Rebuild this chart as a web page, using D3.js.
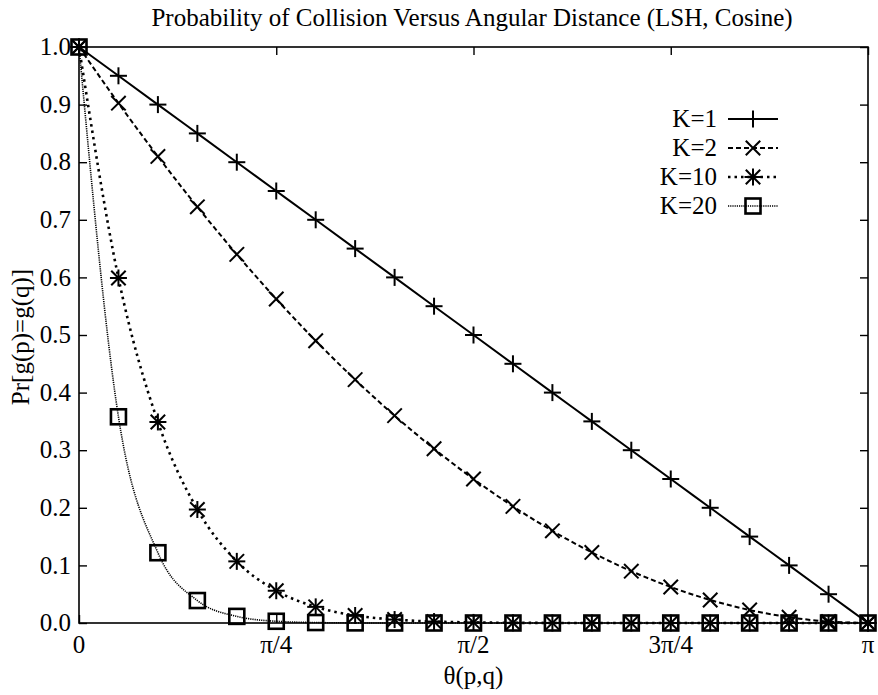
<!DOCTYPE html>
<html>
<head>
<meta charset="utf-8">
<script src="https://cdn.jsdelivr.net/npm/d3@7"></script>
<style>
  html, body { margin: 0; padding: 0; background: #fff; }
</style>
</head>
<body>
<svg id="chart" width="878" height="695"></svg>
<script>
// Angular distance samples, in units of pi (every pi/20)
const thetaFrac = [0, 0.05, 0.10, 0.15, 0.20, 0.25, 0.30, 0.35, 0.40, 0.45, 0.50,
                   0.55, 0.60, 0.65, 0.70, 0.75, 0.80, 0.85, 0.90, 0.95, 1.00];

// Collision probabilities for each K
const probK1  = [1.00, 0.95, 0.90, 0.85, 0.80, 0.75, 0.70, 0.65, 0.60, 0.55, 0.50,
                 0.45, 0.40, 0.35, 0.30, 0.25, 0.20, 0.15, 0.10, 0.05, 0.00];
const probK2  = [1.00, 0.9025, 0.81, 0.7225, 0.64, 0.5625, 0.49, 0.4225, 0.36, 0.3025, 0.25,
                 0.2025, 0.16, 0.1225, 0.09, 0.0625, 0.04, 0.0225, 0.01, 0.0025, 0.00];
const probK10 = [1.00, 0.599, 0.349, 0.197, 0.107, 0.056, 0.028, 0.013, 0.006, 0.0025, 0.001,
                 0.0003, 0.0001, 0, 0, 0, 0, 0, 0, 0, 0];
const probK20 = [1.00, 0.358, 0.122, 0.039, 0.0115, 0.003, 0.0008, 0.0002, 0, 0, 0,
                 0, 0, 0, 0, 0, 0, 0, 0, 0, 0];

const seriesNames = ["K=1", "K=2", "K=10", "K=20"];
const seriesValues = [probK1, probK2, probK10, probK20];

const xTickFrac = [0, 0.25, 0.5, 0.75, 1];
const xTickLabels = ["0", "\u03c0/4", "\u03c0/2", "3\u03c0/4", "\u03c0"];
const yTicks = [0, 0.1, 0.2, 0.3, 0.4, 0.5, 0.6, 0.7, 0.8, 0.9, 1.0];

const titleText = "Probability of Collision Versus Angular Distance (LSH, Cosine)";
const xLabel = "\u03b8(p,q)";
const yLabel = "Pr[g(p)=g(q)]";

// Layout
const plot = { left: 79, right: 868, top: 47, bottom: 623 };
const fontSize = 25;
const fontFamily = '"Liberation Serif", "Times New Roman", Times, "DejaVu Serif", serif';

const svg = d3.select("#chart")
  .attr("font-family", fontFamily);
const x = d3.scaleLinear().domain([0, 1]).range([plot.left, plot.right]);
const y = d3.scaleLinear().domain([0, 1]).range([plot.bottom, plot.top]);

// Line styles per series
const styles = [
  { dash: null,    width: 2.0, marker: "plus" },
  { dash: "5,3",   width: 2.0, marker: "cross" },
  { dash: "2.5,4", width: 2.6, marker: "star" },
  { dash: "1.2,1", width: 1.6, marker: "square" }
];

// Ticks (inward, mirrored on all four sides)
const tickLen = 8;
const xAxisBottom = d3.axisBottom(x).tickValues(xTickFrac).tickSize(-tickLen).tickFormat("");
const xAxisTop = d3.axisTop(x).tickValues(xTickFrac).tickSize(-tickLen).tickFormat("");
const yAxisLeft = d3.axisLeft(y).tickValues(yTicks).tickSize(-tickLen).tickFormat("");
const yAxisRight = d3.axisRight(y).tickValues(yTicks).tickSize(-tickLen).tickFormat("");

function styleAxis(g) {
  g.select(".domain").remove();
  g.selectAll(".tick line").attr("stroke", "#000").attr("stroke-width", 1.4);
}
svg.append("g").attr("transform", `translate(0,${plot.bottom})`).call(xAxisBottom).call(styleAxis);
svg.append("g").attr("transform", `translate(0,${plot.top})`).call(xAxisTop).call(styleAxis);
svg.append("g").attr("transform", `translate(${plot.left},0)`).call(yAxisLeft).call(styleAxis);
svg.append("g").attr("transform", `translate(${plot.right},0)`).call(yAxisRight).call(styleAxis);

// Tick labels
svg.append("g").selectAll("text").data(yTicks).join("text")
  .attr("x", plot.left - 8)
  .attr("y", d => y(d))
  .attr("dy", "0.33em")
  .attr("text-anchor", "end")
  .attr("font-size", fontSize)
  .text(d => d.toFixed(1));

svg.append("g").selectAll("text").data(xTickFrac).join("text")
  .attr("x", d => x(d))
  .attr("y", 653)
  .attr("text-anchor", "middle")
  .attr("font-size", fontSize)
  .text((d, i) => xTickLabels[i]);

// Titles
svg.append("text").attr("x", 472).attr("y", 26)
  .attr("text-anchor", "middle").attr("font-size", fontSize).text(titleText);
svg.append("text").attr("x", (plot.left + plot.right) / 2).attr("y", 684)
  .attr("text-anchor", "middle").attr("font-size", fontSize).text(xLabel);
svg.append("text")
  .attr("transform", `translate(29,337) rotate(-90)`)
  .attr("text-anchor", "middle").attr("font-size", fontSize).text(yLabel);

// Point markers
function drawMarker(g, type, cx, cy) {
  const s = 8.5;
  const m = g.append("g").attr("transform", `translate(${cx},${cy})`)
    .attr("stroke", "#000").attr("stroke-width", 2).attr("fill", "none");
  if (type === "plus" || type === "star") {
    m.append("line").attr("x1", -s).attr("x2", s).attr("y1", 0).attr("y2", 0);
    m.append("line").attr("x1", 0).attr("x2", 0).attr("y1", -s).attr("y2", s);
  }
  if (type === "cross" || type === "star") {
    const c = s * 0.85;
    m.append("line").attr("x1", -c).attr("x2", c).attr("y1", -c).attr("y2", c);
    m.append("line").attr("x1", -c).attr("x2", c).attr("y1", c).attr("y2", -c);
  }
  if (type === "square") {
    m.append("rect").attr("x", -7.5).attr("y", -7.5).attr("width", 15).attr("height", 15)
      .attr("stroke-width", 2.6);
  }
}

// Curves
const line = d3.line()
  .x((d, i) => x(thetaFrac[i]))
  .y(d => y(d))
  .curve(d3.curveMonotoneX);

const seriesG = svg.append("g");
seriesValues.forEach((vals, k) => {
  const st = styles[k];
  seriesG.append("path")
    .datum(vals)
    .attr("d", line)
    .attr("fill", "none")
    .attr("stroke", "#000")
    .attr("stroke-width", st.width)
    .attr("stroke-dasharray", st.dash);
});
seriesValues.forEach((vals, k) => {
  const mg = seriesG.append("g");
  vals.forEach((v, i) => drawMarker(mg, styles[k].marker, x(thetaFrac[i]), y(v)));
});

// Frame
svg.append("rect")
  .attr("x", plot.left).attr("y", plot.top)
  .attr("width", plot.right - plot.left).attr("height", plot.bottom - plot.top)
  .attr("fill", "none").attr("stroke", "#000").attr("stroke-width", 1.6);

// Legend
const legend = svg.append("g");
const legendY0 = 119, legendDy = 29;
seriesNames.forEach((name, k) => {
  const ly = legendY0 + k * legendDy;
  legend.append("text").attr("x", 717).attr("y", ly).attr("dy", "0.33em")
    .attr("text-anchor", "end").attr("font-size", fontSize).text(name);
  legend.append("line").attr("x1", 728).attr("x2", 778).attr("y1", ly).attr("y2", ly)
    .attr("stroke", "#000").attr("stroke-width", styles[k].width)
    .attr("stroke-dasharray", styles[k].dash);
  drawMarker(legend, styles[k].marker, 753, ly);
});
</script>
</body>
</html>
